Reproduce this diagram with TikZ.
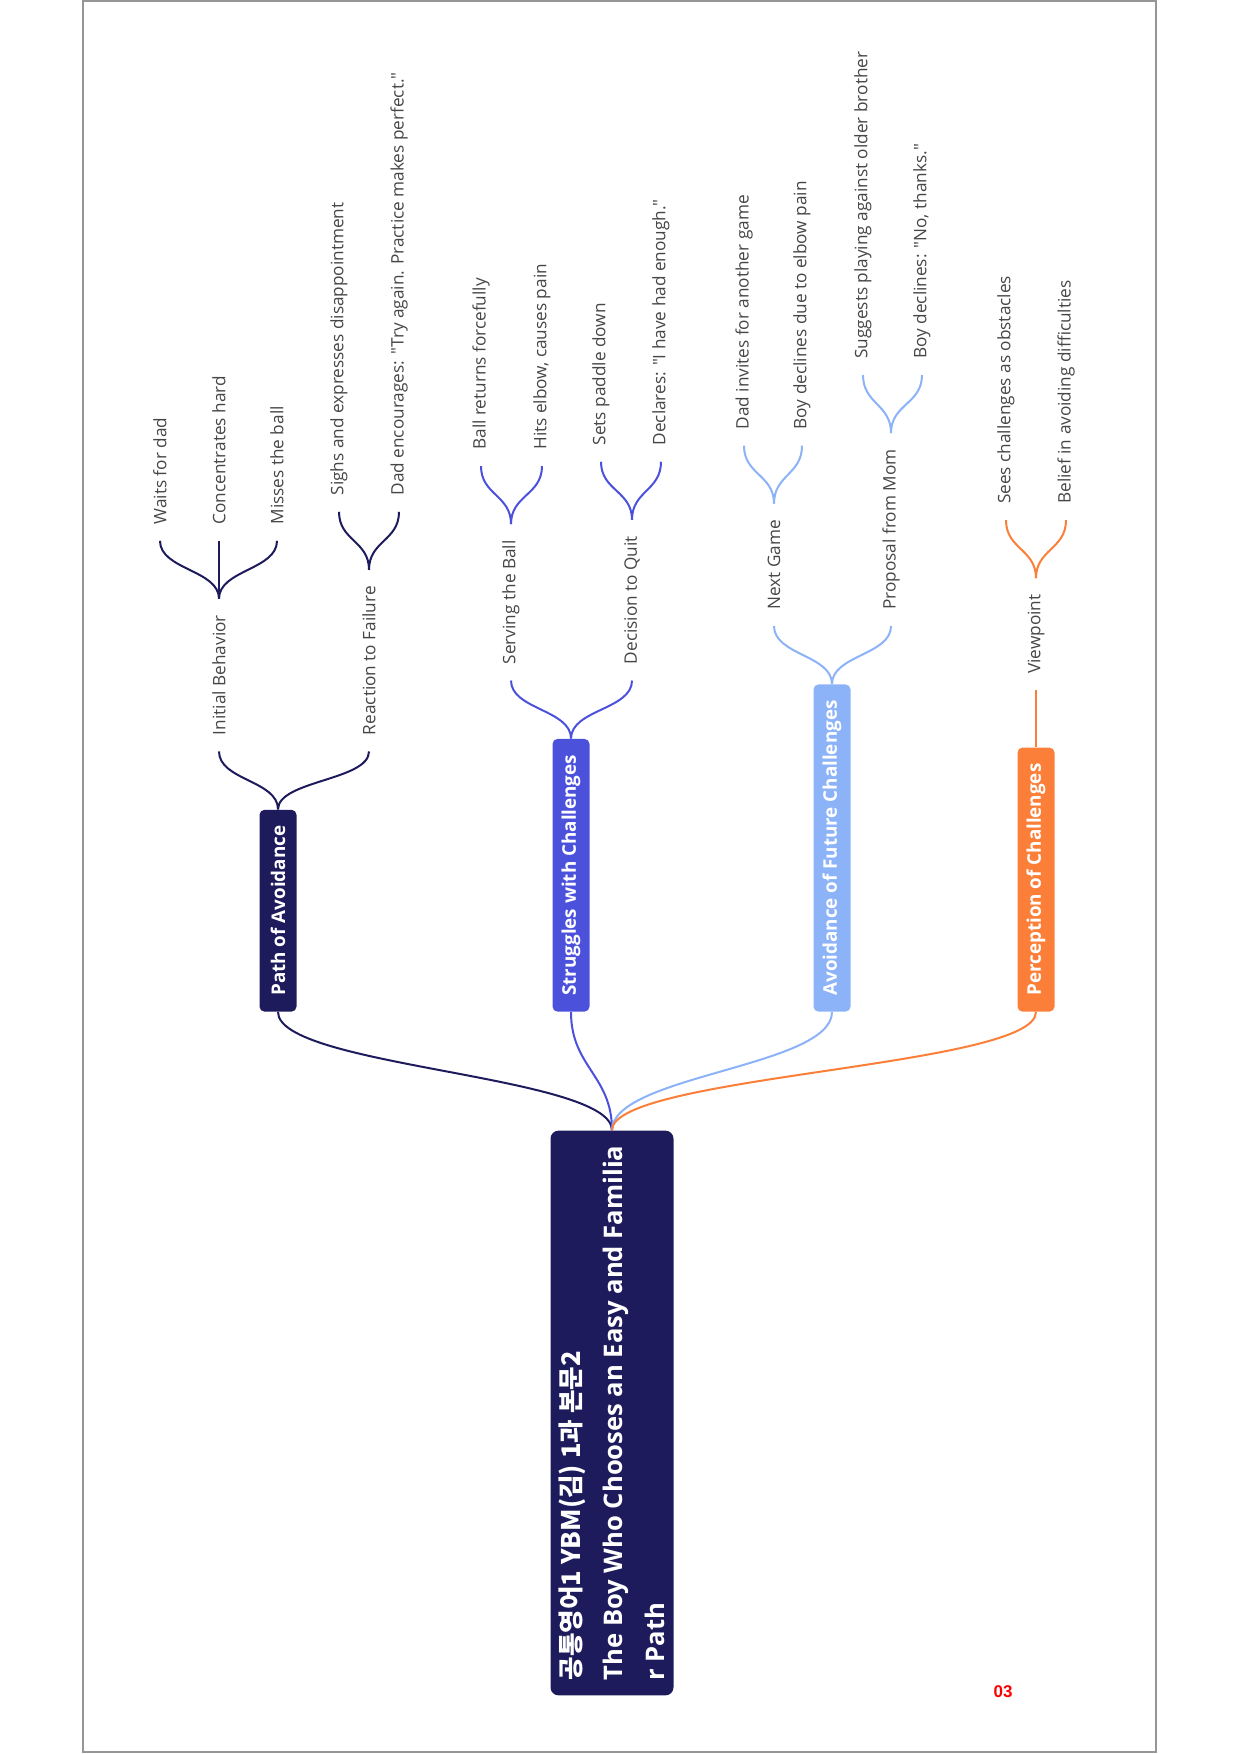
\documentclass[tikz,border=0pt]{standalone}
\usepackage{fontspec}
\setmainfont{Open Sans}[Ligatures=TeXOff]
\newfontfamily\krfont{Noto Sans CJK KR}
\newfontfamily\pagefont{Liberation Sans}
\usetikzlibrary{calc}
\definecolor{mapnavy}{RGB}{29,27,92}
\definecolor{mapblue}{RGB}{76,81,220}
\definecolor{mapsky}{RGB}{140,178,248}
\definecolor{maporange}{RGB}{251,127,56}
\definecolor{mapgray}{RGB}{70,70,70}
\definecolor{framegray}{RGB}{150,150,150}

\begin{document}
\begin{tikzpicture}[
  x=0.5pt, y=-0.5pt,
  maproot/.style={rectangle, rounded corners=4pt, fill=mapnavy, text=white, rotate=90, align=left, inner xsep=7.5pt, minimum height=61.5pt, font=\bfseries\fontsize{12.8}{21}\selectfont},
  topic/.style={rectangle, rounded corners=2.5pt, fill=#1, text=white, rotate=90, anchor=west, inner xsep=8pt, minimum height=18.5pt, font=\bfseries\fontsize{9.4}{11}\selectfont},
  subtopic/.style={rotate=90, anchor=west, inner xsep=8pt, inner ysep=2pt, text=mapgray, font=\fontsize{8.6}{10}\selectfont},
  link/.style={line width=1pt, draw=#1},
  forkline/.style={to path={.. controls +(0,-#1) and +(0,#1) .. (\tikztotarget)}},
  forkline/.default=29
]
\useasboundingbox (0,0) rectangle (1240,1754);
\draw[framegray, line width=0.75pt] (83,1) rectangle (1156,1752);

% root and main topics
\node[maproot] (root) at (612,1413) {{\krfont 공통영어1 YBM(김) 1과 본문2}\\The Boy Who Chooses an Easy and Familia\\r Path};
\node[topic=mapnavy] (avoid) at (278,1012) {Path of Avoidance};
\node[topic=mapblue] (struggle) at (571,1012) {Struggles with Challenges};
\node[topic=mapsky] (future) at (832,1012) {Avoidance of Future Challenges};
\node[topic=maporange] (percept) at (1036,1012) {Perception of Challenges};

% Path of Avoidance
\node[subtopic] (initial) at ($(avoid.east)+(-59,-58)$) {Initial Behavior};
\node[subtopic] (reaction) at ($(avoid.east)+(91,-58)$) {Reaction to Failure};
\node[subtopic] (waits) at ($(initial.east)+(-59,-58)$) {Waits for dad};
\node[subtopic] (concentrates) at ($(initial.east)+(0,-58)$) {Concentrates hard};
\node[subtopic] (misses) at ($(initial.east)+(58,-58)$) {Misses the ball};
\node[subtopic] (sighs) at ($(reaction.east)+(-30,-58)$) {Sighs and expresses disappointment};
\node[subtopic] (encourage) at ($(reaction.east)+(30,-58)$) {Dad encourages: "Try again. Practice makes perfect."};

% Struggles with Challenges
\node[subtopic] (serving) at ($(struggle.east)+(-60,-58)$) {Serving the Ball};
\node[subtopic] (quit) at ($(struggle.east)+(61,-58)$) {Decision to Quit};
\node[subtopic] (returns) at ($(serving.east)+(-30,-58)$) {Ball returns forcefully};
\node[subtopic] (elbow) at ($(serving.east)+(31,-58)$) {Hits elbow, causes pain};
\node[subtopic] (paddle) at ($(quit.east)+(-31,-58)$) {Sets paddle down};
\node[subtopic] (enough) at ($(quit.east)+(29,-58)$) {Declares: "I have had enough."};

% Avoidance of Future Challenges
\node[subtopic] (nextgame) at ($(future.east)+(-58,-58)$) {Next Game};
\node[subtopic] (proposal) at ($(future.east)+(59,-58)$) {Proposal from Mom};
\node[subtopic] (invites) at ($(nextgame.east)+(-30,-58)$) {Dad invites for another game};
\node[subtopic] (declines) at ($(nextgame.east)+(28,-58)$) {Boy declines due to elbow pain};
\node[subtopic] (brother) at ($(proposal.east)+(-28,-58)$) {Suggests playing against older brother};
\node[subtopic] (nothanks) at ($(proposal.east)+(31,-58)$) {Boy declines: "No, thanks."};

% Perception of Challenges
\node[subtopic] (viewpoint) at ($(percept.east)+(0,-57)$) {Viewpoint};
\node[subtopic] (obstacles) at ($(viewpoint.east)+(-30,-58)$) {Sees challenges as obstacles};
\node[subtopic] (belief) at ($(viewpoint.east)+(30,-58)$) {Belief in avoiding difficulties};

\node[text=red, font=\pagefont\bfseries\fontsize{8.5}{10}\selectfont] (pagenum) at (1003,1692) {03};

% connectors
\draw[link=mapnavy] (root.east) to[forkline=55] (avoid.west);
\draw[link=mapblue] (root.east) to[forkline=55] (struggle.west);
\draw[link=mapsky] (root.east) to[forkline=55] (future.west);
\draw[link=maporange] (root.east) to[forkline=55] (percept.west);

\draw[link=mapnavy] (avoid.east) to[forkline] (initial.west);
\draw[link=mapnavy] (avoid.east) to[forkline] (reaction.west);
\draw[link=mapnavy] (initial.east) to[forkline] (waits.west);
\draw[link=mapnavy] (initial.east) to[forkline] (concentrates.west);
\draw[link=mapnavy] (initial.east) to[forkline] (misses.west);
\draw[link=mapnavy] (reaction.east) to[forkline] (sighs.west);
\draw[link=mapnavy] (reaction.east) to[forkline] (encourage.west);

\draw[link=mapblue] (struggle.east) to[forkline] (serving.west);
\draw[link=mapblue] (struggle.east) to[forkline] (quit.west);
\draw[link=mapblue] (serving.east) to[forkline] (returns.west);
\draw[link=mapblue] (serving.east) to[forkline] (elbow.west);
\draw[link=mapblue] (quit.east) to[forkline] (paddle.west);
\draw[link=mapblue] (quit.east) to[forkline] (enough.west);

\draw[link=mapsky] (future.east) to[forkline] (nextgame.west);
\draw[link=mapsky] (future.east) to[forkline] (proposal.west);
\draw[link=mapsky] (nextgame.east) to[forkline] (invites.west);
\draw[link=mapsky] (nextgame.east) to[forkline] (declines.west);
\draw[link=mapsky] (proposal.east) to[forkline] (brother.west);
\draw[link=mapsky] (proposal.east) to[forkline] (nothanks.west);

\draw[link=maporange] (percept.east) -- (viewpoint.west);
\draw[link=maporange] (viewpoint.east) to[forkline] (obstacles.west);
\draw[link=maporange] (viewpoint.east) to[forkline] (belief.west);
\end{tikzpicture}
\end{document}
